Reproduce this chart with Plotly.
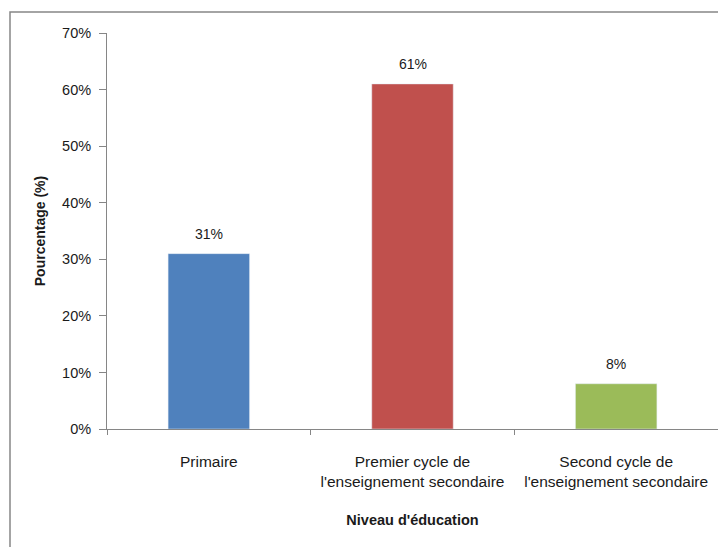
import plotly.graph_objects as go

categories = ["Primaire", "Premier cycle de<br>l'enseignement secondaire", "Second cycle de<br>l'enseignement secondaire"]
values = [0.31, 0.61, 0.08]
labels = ["31%", "61%", "8%"]
colors = ["#4F81BD", "#C0504D", "#9BBB59"]

FONT = "Liberation Sans, Arial"
TXT = "#1a1a1a"

# page body offsets the figure by 8px; compensate in margins
OFF = 8
W, H = 726, 547
L, R, T, B = 107 - OFF, 8 + OFF, 33 - OFF, 118 + OFF

# screen -> paper fraction (plot area on screen: x 107..718, y 33..429)
def px_x(x):
    return (x - 107) / 611

def px_y(y):
    return (429 - y) / 396

fig = go.Figure(go.Bar(
    x=categories, y=values, marker_color=colors, width=0.4,
))

annotations = [
    dict(x=c, y=v, text=t, xref="x", yref="y", showarrow=False,
         yshift=20, font=dict(family=FONT, size=14, color=TXT))
    for c, v, t in zip(categories, values, labels)
]

fig.update_layout(
    width=W, height=H,
    margin=dict(l=L, r=R, t=T, b=B),
    paper_bgcolor="white", plot_bgcolor="white",
    showlegend=False,
    font=dict(family=FONT, size=14, color=TXT),
    annotations=annotations,
    xaxis=dict(
        showline=True, linecolor="#868686", linewidth=1,
        ticks="outside", tickson="boundaries", ticklen=5, tickcolor="#868686",
        ticklabelstandoff=18,
        title=dict(text="<b>Niveau d'éducation</b>", standoff=26,
                   font=dict(family=FONT, size=14.5, color=TXT)),
        tickfont=dict(family=FONT, size=15.5, color=TXT),
    ),
    yaxis=dict(
        range=[0, 0.7], dtick=0.1, tickformat=".0%",
        showline=True, linecolor="#868686", linewidth=1,
        ticks="outside", ticklen=7, tickcolor="#868686",
        ticklabelstandoff=5,
        showgrid=False, zeroline=False,
        title=dict(text="<b>Pourcentage (%)</b>", standoff=13,
                   font=dict(family=FONT, size=14, color=TXT)),
        tickfont=dict(family=FONT, size=14.5, color=TXT),
    ),
    shapes=[dict(type="rect", xref="paper", yref="paper",
                 x0=px_x(10), x1=px_x(780), y0=px_y(600), y1=px_y(12),
                 line=dict(color="#868686", width=1.5), layer="below")],
)

fig.write_html("out.html")
